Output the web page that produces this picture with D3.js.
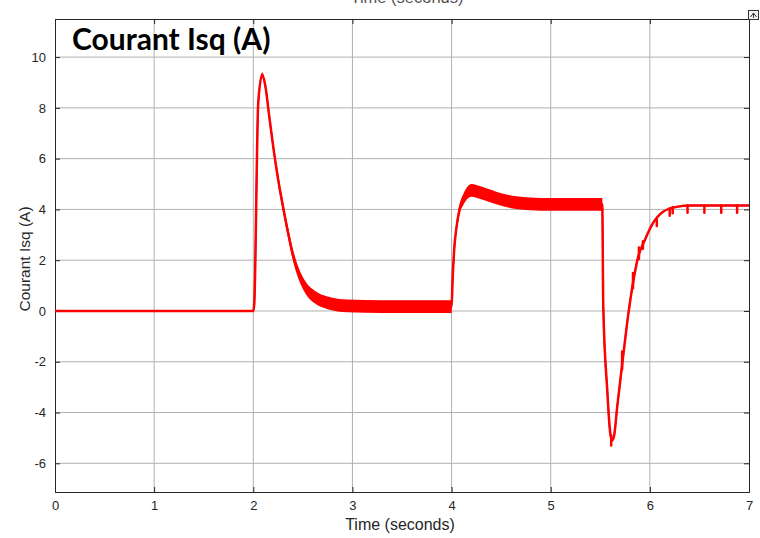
<!DOCTYPE html>
<html>
<head>
<meta charset="utf-8">
<script src="https://cdn.jsdelivr.net/npm/d3@7"></script>
<style>
  body { margin: 0; background: #fff; }
  svg { display: block; font-family: "Liberation Sans", Arial, sans-serif; }
</style>
</head>
<body>
<svg id="chart" width="760" height="538"></svg>
<script>
// Courant Isq
const timeS = [0, 2.0, 2.01, 2.05, 2.09, 2.12, 2.16, 2.2, 2.25, 2.3, 2.35, 2.4, 2.46, 2.53, 2.62, 2.75, 2.95, 3.3, 4.0,
               4.01, 4.03, 4.05, 4.08, 4.12, 4.2, 4.3, 4.45, 4.6, 4.8, 5.0, 5.52,
               5.53, 5.57, 5.6, 5.62, 5.64, 5.67, 5.73, 5.78, 5.83, 5.88, 5.95, 6.03, 6.13, 6.27, 6.41, 6.6, 7.0];
const isqA  = [0, 0, 0.3, 8.2, 9.3, 8.9, 7.7, 6.5, 5.2, 4.1, 3.1, 2.2, 1.45, 0.9, 0.55, 0.32, 0.2, 0.17, 0.17,
               1.2, 2.6, 3.3, 4.0, 4.4, 4.75, 4.65, 4.45, 4.3, 4.22, 4.2, 4.2,
               0.2, -3.1, -4.8, -5.1, -4.9, -3.8, -1.8, -0.2, 1.1, 2.1, 2.8, 3.45, 3.9, 4.1, 4.15, 4.15, 4.15];
// half thickness of the switching ripple band
const rippleA = [0, 0, 0, 0, 0.1, 0.12, 0.14, 0.16, 0.18, 0.2, 0.21, 0.22, 0.23, 0.24, 0.25, 0.25, 0.25, 0.25, 0.25,
                 0.1, 0.15, 0.2, 0.2, 0.22, 0.25, 0.25, 0.25, 0.25, 0.25, 0.25, 0.25,
                 0, 0, 0, 0, 0, 0, 0, 0, 0, 0, 0, 0, 0, 0, 0, 0, 0];
// little spikes after the load step
const spikeT    = [5.61, 5.72, 5.83, 5.89, 5.93, 6.07, 6.2, 6.23, 6.38, 6.55, 6.72, 6.88];
const spikeBase = [-4.9, -1.6, 1.5, 2.5, 2.75, 3.6, 4.05, 4.1, 4.15, 4.15, 4.15, 4.15];
const spikeTip  = [-5.3, -2.3, 0.9, 2.05, 2.45, 3.35, 3.75, 3.85, 3.87, 3.87, 3.87, 3.87];

const xTicks = [0, 1, 2, 3, 4, 5, 6, 7];
const yTicks = [-6, -4, -2, 0, 2, 4, 6, 8, 10];

const svg = d3.select("#chart");
const pLeft = 55, pRight = 749, pTop = 19, pBottom = 492;

const x = d3.scaleLinear().domain([0, 7]).range([pLeft, pRight]);
const y = d3.scaleLinear().domain([-7.13, 11.5]).range([pBottom, pTop]);

const pts = timeS.map((t, i) => ({ t: t, v: isqA[i], r: rippleA[i] }));
const plain = d => String(d);  // hyphen minus like the scope

// grid
svg.append("g").selectAll("line").data(xTicks.slice(1, -1)).enter().append("line")
    .attr("x1", d => x(d)).attr("x2", d => x(d))
    .attr("y1", pTop).attr("y2", pBottom)
    .attr("stroke", "#b0b0b0").attr("stroke-width", 1);
svg.append("g").selectAll("line").data(yTicks).enter().append("line")
    .attr("x1", pLeft).attr("x2", pRight)
    .attr("y1", d => y(d)).attr("y2", d => y(d))
    .attr("stroke", "#b0b0b0").attr("stroke-width", 1);

// axes with inward ticks
svg.append("g").attr("transform", `translate(0,${pBottom})`)
    .call(d3.axisBottom(x).tickValues(xTicks).tickSize(-5).tickPadding(9).tickFormat(plain));
svg.append("g").attr("transform", `translate(0,${pTop})`)
    .call(d3.axisTop(x).tickValues(xTicks).tickSize(-5).tickFormat(""));
svg.append("g").attr("transform", `translate(${pLeft},0)`)
    .call(d3.axisLeft(y).tickValues(yTicks).tickSize(-5).tickPadding(9).tickFormat(plain));
svg.append("g").attr("transform", `translate(${pRight},0)`)
    .call(d3.axisRight(y).tickValues(yTicks).tickSize(-5).tickFormat(""));

svg.selectAll(".domain").attr("stroke", "#262626");
svg.selectAll(".tick line").attr("stroke", "#262626");
svg.selectAll(".tick text").attr("font-size", 13).attr("fill", "#262626")
    .attr("font-family", "Liberation Sans, Arial, sans-serif");

// signal
svg.append("clipPath").attr("id", "clip").append("rect")
    .attr("x", pLeft).attr("y", pTop).attr("width", pRight - pLeft).attr("height", pBottom - pTop);
const plot = svg.append("g").attr("clip-path", "url(#clip)");

const curve = d3.curveMonotoneX;

plot.append("path").datum(pts)
    .attr("fill", "none").attr("stroke", "#3a3ad0").attr("stroke-width", 1.5)
    .attr("d", d3.line().curve(curve).x(d => x(d.t)).y(d => y(d.v)));

plot.append("path").datum(pts)
    .attr("fill", "#ff0000").attr("stroke", "none")
    .attr("d", d3.area().curve(curve).x(d => x(d.t)).y0(d => y(d.v - d.r)).y1(d => y(d.v + d.r)));

plot.append("path").datum(pts)
    .attr("fill", "none").attr("stroke", "#ff0000").attr("stroke-width", 2.5)
    .attr("stroke-linejoin", "round")
    .attr("d", d3.line().curve(curve).x(d => x(d.t)).y(d => y(d.v)));

plot.append("g").selectAll("line").data(spikeT).enter().append("line")
    .attr("x1", d => x(d)).attr("x2", d => x(d))
    .attr("y1", (d, i) => y(spikeBase[i])).attr("y2", (d, i) => y(spikeTip[i]))
    .attr("stroke", "#ff0000").attr("stroke-width", 2.5).attr("stroke-linecap", "round");

// labels
svg.append("text").attr("x", 400).attr("y", 530)
    .attr("text-anchor", "middle").attr("font-size", 16).attr("fill", "#262626")
    .text("Time (seconds)");
svg.append("text").attr("x", 407).attr("y", 3)
    .attr("text-anchor", "middle").attr("font-size", 16.5).attr("fill", "#555")
    .text("Time (seconds)");
svg.append("text").attr("transform", "translate(30,259) rotate(-90)")
    .attr("text-anchor", "middle").attr("font-size", 15.5).attr("fill", "#262626")
    .text("Courant Isq (A)");

svg.append("text").attr("x", 72).attr("y", 50)
    .attr("font-family", "Lato, 'Open Sans', sans-serif").attr("font-weight", "bold")
    .attr("font-size", 30).attr("fill", "#000")
    .text("Courant Isq (A)");

// scope corner button
svg.append("rect").attr("x", 748.5).attr("y", 10.5).attr("width", 10).attr("height", 9)
    .attr("fill", "#f2f2f2").attr("stroke", "#333");
svg.append("path").attr("d", "M750.5,17 L753.5,13 L756.5,17 M753.5,13 V18")
    .attr("fill", "none").attr("stroke", "#333").attr("stroke-width", 1);
</script>
</body>
</html>
